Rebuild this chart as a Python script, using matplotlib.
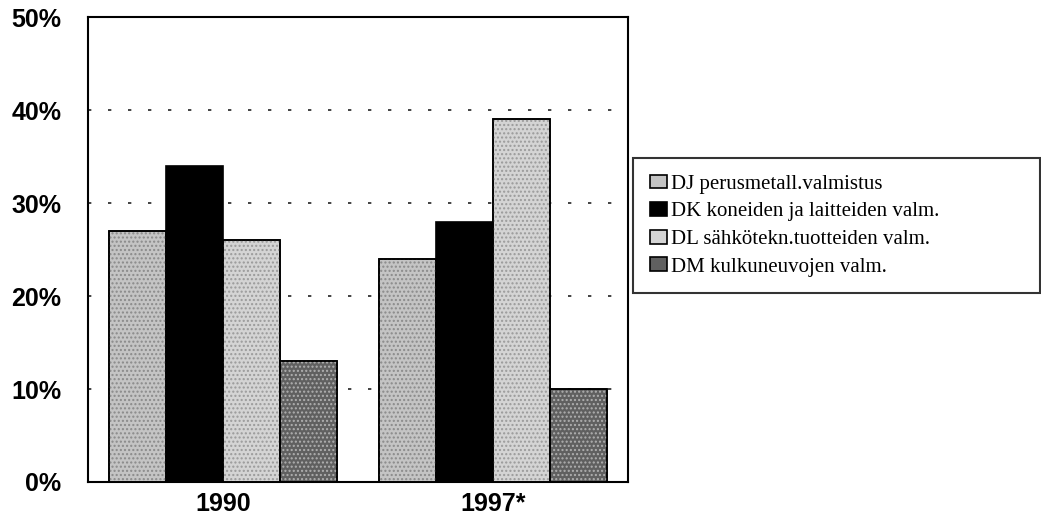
import numpy as np
import matplotlib
matplotlib.use("Agg")
import matplotlib.pyplot as plt

# data
years = ["1990", "1997*"]
series = [
    "DJ perusmetall.valmistus",
    "DK koneiden ja laitteiden valm.",
    "DL sähkötekn.tuotteiden valm.",
    "DM kulkuneuvojen valm.",
]
dj = [27, 24]
dk = [34, 28]
dl = [26, 39]
dm = [13, 10]
values = [dj, dk, dl, dm]
colors = ["#c4c4c4", "#000000", "#d4d4d4", "#606060"]
dots = ["#8a8a8a", None, "#9a9a9a", "#b0b0b0"]

plt.rcParams["hatch.linewidth"] = 1.0

fig = plt.figure(figsize=(10.41, 5.18), dpi=100)
ax = fig.add_axes([0.0845, 0.0695, 0.5185, 0.8975])

x = np.arange(len(years))
w = 0.211
for i, (vals, c) in enumerate(zip(values, colors)):
    pos = x + (i - 1.5) * w
    ax.bar(pos, vals, w, color=c, edgecolor="black",
           linewidth=1.2, label=series[i], zorder=3)
    if dots[i]:
        # stippled look of the scanned fill
        ax.bar(pos, vals, w, fill=False, edgecolor=dots[i], linewidth=0,
               hatch="....", zorder=4)
        ax.bar(pos, vals, w, fill=False, edgecolor="black",
               linewidth=1.2, zorder=5)

ax.set_xlim(-0.5, len(years) - 0.5)
ax.set_ylim(0, 50)
ax.set_yticks(range(0, 51, 10))
ax.set_yticklabels([f"{v}%" for v in range(0, 51, 10)])
ax.set_xticks(x)
ax.set_xticklabels(years)
for lab in ax.get_xticklabels() + ax.get_yticklabels():
    lab.set_family("Liberation Sans")
    lab.set_fontsize(18)
    lab.set_weight("bold")
ax.tick_params(axis="both", length=0)
ax.tick_params(axis="y", pad=19)
ax.tick_params(axis="x", pad=7)
for s in ax.spines.values():
    s.set_linewidth(1.5)

for v in (10, 20, 30, 40):
    ax.axhline(v, color="#222222", lw=1.2, ls=(0, (2, 10)), zorder=1)

leg = ax.legend(loc="center left", bbox_to_anchor=(0.608, 0.436, 0.391, 0.257),
                bbox_transform=fig.transFigure, mode="expand",
                prop={"family": "Liberation Serif", "size": 15},
                frameon=True, fancybox=False, edgecolor="black",
                handlelength=0.85, handleheight=0.65, handletextpad=0.2,
                labelspacing=0.4, borderpad=0.8, borderaxespad=0)
leg.get_frame().set_linewidth(1.5)

fig.savefig("out.png", dpi=100)
